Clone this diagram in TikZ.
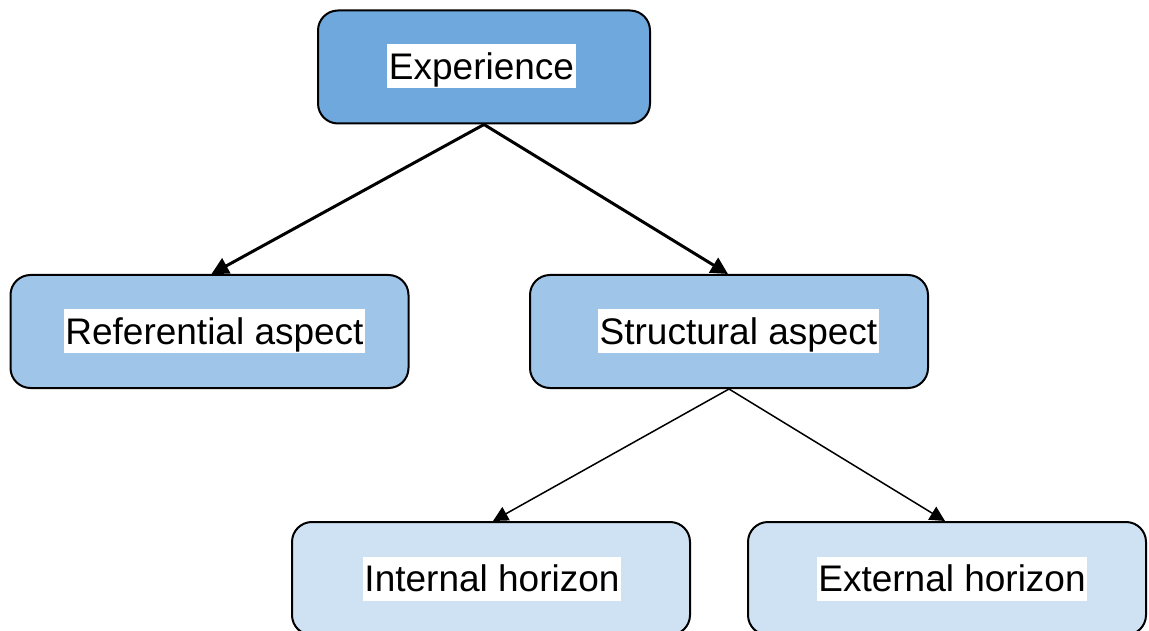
\documentclass[tikz,border=0pt]{standalone}
\usepackage{fontspec}
\setmainfont{Liberation Sans}
\usetikzlibrary{arrows.meta}
\definecolor{c1}{HTML}{6FA8DC}
\definecolor{c2}{HTML}{9FC5E8}
\definecolor{c3}{HTML}{CFE2F3}
\begin{document}
\begin{tikzpicture}[x=1pt,y=-1pt,
  box/.style={draw=black,line width=2pt,rounded corners=20pt,minimum width=#1,minimum height=113pt,inner sep=0pt},
  box/.default=398pt,
  txt/.style={fill=white,inner xsep=1.5pt,inner ysep=1pt,text height=34pt,text depth=8pt,font=\fontsize{37}{44}\selectfont},
  thickarr/.style={line width=3pt,-{Triangle[length=17pt,width=17pt]}},
  thinarr/.style={line width=1.5pt,-{Triangle[length=15pt,width=15pt]}}]
\useasboundingbox (0,0) rectangle (1149,631);
\node[box=332pt,fill=c1] (exp) at (484,67) {};
\node[txt] (expt) at (481.5,66.5) {Experience};
\node[box,fill=c2] (ref) at (209.5,331.5) {};
\node[txt] (reft) at (214.5,331) {Referential aspect};
\node[box,fill=c2] (str) at (729,331.5) {};
\node[txt] (strt) at (738.5,331) {Structural aspect};
\node[box,fill=c3] (int) at (491,578.5) {};
\node[txt] (intt) at (492,578.5) {Internal horizon};
\node[box,fill=c3] (ext) at (947,578.5) {};
\node[txt] (extt) at (952,578.5) {External horizon};
\draw[thickarr] (exp.south) -- ([xshift=2pt]ref.north);
\draw[thickarr] (exp.south) -- ([xshift=-1pt]str.north);
\draw[thinarr] (str.south) -- ([xshift=2pt]int.north);
\draw[thinarr] (str.south) -- ([xshift=-2pt]ext.north);
\end{tikzpicture}
\end{document}
